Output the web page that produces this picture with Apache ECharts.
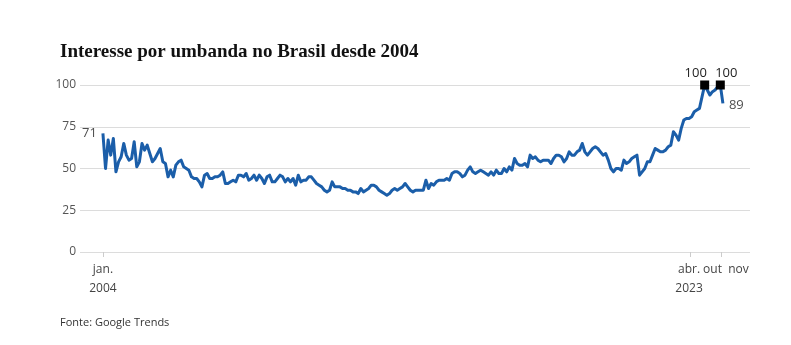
<!DOCTYPE html>
<html>
<head>
<meta charset="utf-8">
<script src="https://cdn.jsdelivr.net/npm/echarts@6/dist/echarts.min.js"></script>
<style>
html,body{margin:0;padding:0;background:#fff;}
#c{width:791px;height:345px;}
</style>
</head>
<body>
<div id="c"></div>
<script>
// Monthly Google Trends interest, Jan 2004 .. Nov 2023
const startYear = 2004;
const values = [
  // 2004
  71,50,67,58,68,48,54,57,65,58,55,56,
  // 2005
  66,51,54,65,61,64,59,54,56,59,62,54,
  // 2006
  53,45,49,45,52,54,55,51,50,49,45,44,
  // 2007
  44,42,39,46,47,44,44,45,45,46,48,41,
  // 2008
  41,42,43,42,46,46,45,47,43,44,46,43,
  // 2009
  46,44,41,45,46,42,42,44,46,45,42,44,
  // 2010
  42,44,40,46,42,43,43,45,45,43,41,40,
  // 2011
  39,37,36,37,42,39,39,39,38,38,37,37,
  // 2012
  36,36,35,38,36,37,38,40,40,39,37,36,
  // 2013
  35,34,35,37,38,37,38,39,41,39,37,36,
  // 2014
  37,37,37,37,43,38,41,40,42,43,43,43,
  // 2015
  44,43,47,48,48,47,45,46,49,51,48,47,
  // 2016
  48,49,48,47,46,48,46,49,47,47,50,48,
  // 2017
  51,49,56,53,52,52,53,51,58,56,57,55,
  // 2018
  54,55,55,55,53,56,58,58,57,54,56,60,
  // 2019
  58,58,60,61,65,60,58,60,62,63,62,60,
  // 2020
  58,59,55,50,48,50,50,49,55,53,54,56,
  // 2021
  57,58,46,48,50,54,54,58,62,61,60,60,
  // 2022
  61,63,64,72,70,67,74,79,80,80,81,84,
  // 2023
  85,86,93,100,97,94,96,97,99,100,89
];
const monthNames = ['jan.','fev.','mar.','abr.','mai.','jun.','jul.','ago.','set.','out.','nov.','dez.'];
const categories = values.map((v, i) => monthNames[i % 12] + ' ' + (startYear + Math.floor(i / 12)));
const yTicks = [0, 25, 50, 75, 100];
const peakIdx = [231, 237];
const xTickLabels = {0: 'jan.\n2004', 225: 'abr.\n2023', 234: 'out', 244: 'nov'};

const lineData = values.map((v, i) => [i, v]);
const lastIdx = values.length - 1;
const endData = [
  {value: [0, values[0]], label: {position: 'left', distance: 6}},
  {value: [lastIdx, values[lastIdx]], label: {position: 'right', distance: 6, offset: [0, 2]}}
];
const peakData = peakIdx.map((i, k) => ({
  value: [i, values[i]],
  label: {offset: [k === 0 ? -9 : 6, 0]}
}));

const chart = echarts.init(document.getElementById('c'), null, {renderer: 'canvas'});
chart.setOption({
  animation: false,
  backgroundColor: '#fff',
  title: [
    {
      text: 'Interesse por umbanda no Brasil desde 2004',
      left: 55, top: 38,
      textStyle: {fontFamily: 'Liberation Serif', fontWeight: 'bold', fontSize: 19, color: '#111'}
    },
    {
      text: 'Fonte: Google Trends',
      left: 55, top: 312,
      textStyle: {fontFamily: 'Open Sans', fontWeight: 'normal', fontSize: 11, color: '#333'}
    }
  ],
  grid: {left: 80, right: 41, top: 85, bottom: 93, containLabel: false},
  xAxis: {
    type: 'value',
    min: -8.8, max: 248.4,
    axisLine: {show: false},
    splitLine: {show: false},
    axisTick: {show: true, customValues: [0, 225.3, 237.2], length: 5, lineStyle: {color: '#ccc'}},
    axisLabel: {
      show: true,
      customValues: [0, 225, 234, 244],
      formatter: v => xTickLabels[Math.round(v)] || '',
      fontFamily: 'Open Sans', fontSize: 12, color: '#444', lineHeight: 19, margin: 8
    }
  },
  yAxis: {
    type: 'value',
    min: 0, max: 100, interval: 25,
    axisLine: {show: false},
    axisTick: {show: false},
    splitLine: {lineStyle: {color: '#dcdcdc', width: 1}},
    axisLabel: {fontFamily: 'Open Sans', fontSize: 12, color: '#555', margin: 4,
      formatter: v => yTicks.includes(v) ? String(v) : ''}
  },
  series: [
    {
      type: 'line',
      data: lineData,
      showSymbol: false,
      symbol: 'none',
      lineStyle: {color: '#1b5ea9', width: 3, join: 'round'},
      z: 2
    },
    {
      type: 'scatter',
      data: endData,
      symbolSize: 0,
      itemStyle: {color: 'transparent'},
      label: {show: true, formatter: p => String(p.value[1]),
        fontFamily: 'Open Sans', fontSize: 13, color: '#222'},
      z: 3
    },
    {
      type: 'scatter',
      data: peakData,
      symbol: 'rect',
      symbolSize: 9,
      itemStyle: {color: '#000', opacity: 1},
      label: {show: true, position: 'top', distance: 1, formatter: p => String(p.value[1]),
        fontFamily: 'Open Sans', fontSize: 13, color: '#222'},
      z: 3
    }
  ]
});
</script>
</body>
</html>
